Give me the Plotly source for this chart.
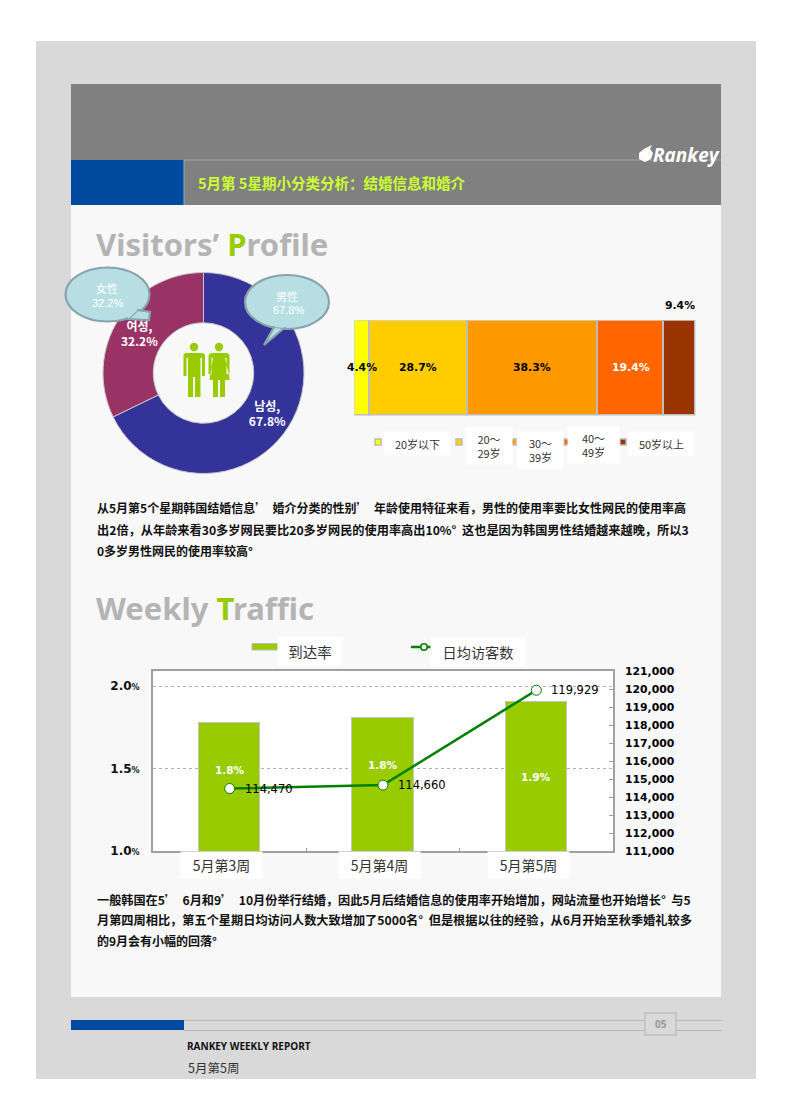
import plotly.graph_objects as go

W, H = 792, 1120

# ---- data ----
gender_labels = ["남성", "여성"]
gender_values = [67.8, 32.2]
gender_colors = ["#333399", "#993366"]

age_labels = ["20岁以下", "20～<br>29岁", "30～<br>39岁", "40～<br>49岁", "50岁以上"]
age_values = [4.4, 28.7, 38.3, 19.4, 9.4]
age_colors = ["#ffff00", "#ffcc00", "#ff9900", "#ff6600", "#993300"]
age_text_colors = ["#000000", "#000000", "#000000", "#ffffff", "#000000"]

weeks = ["5月第3周", "5月第4周", "5月第5周"]
reach = [1.774, 1.806, 1.903]
reach_labels = ["1.8%", "1.8%", "1.9%"]
visitors = [114470, 114660, 119929]
left_ticks = [1.0, 1.5, 2.0]
left_tick_labels = ["1.0", "1.5", "2.0"]
right_ticks = [111000, 112000, 113000, 114000, 115000, 116000, 117000, 118000, 119000, 120000, 121000]

para1 = [
    "从5月第5个星期韩国结婚信息’\u00a0 婚介分类的性别’\u00a0 年龄使用特征来看，男性的使用率要比女性网民的使用率高",
    "出2倍，从年龄来看30多岁网民要比20多岁网民的使用率高出10%°\u00a0 这也是因为韩国男性结婚越来越晚，所以3",
    "0多岁男性网民的使用率较高°",
]
para1_sizes = [12, 12.2, 12]
para2 = [
    "一般韩国在5’\u00a0 6月和9’\u00a0 10月份举行结婚，因此5月后结婚信息的使用率开始增加，网站流量也开始增长°\u00a0 与5",
    "月第四周相比，第五个星期日均访问人数大致增加了5000名°\u00a0 但是根据以往的经验，从6月开始至秋季婚礼较多",
    "的9月会有小幅的回落°",
]
para2_sizes = [12.15, 12.2, 12]

CJK = "Noto Sans CJK SC"
LAT = "DejaVu Sans"
GREEN = "#99cc00"


def px(x):
    return x / W


def py(y):
    return 1 - y / H


shapes, annos = [], []


def rect(x0, y0, x1, y1, fill, line=None, lw=1, layer="below"):
    shapes.append(dict(type="rect", xref="paper", yref="paper", x0=px(x0), x1=px(x1),
                       y0=py(y0), y1=py(y1), fillcolor=fill, layer=layer,
                       line=dict(color=line or fill, width=lw if line else 0)))


def hline(x0, x1, y, color, lw=1, layer="below"):
    shapes.append(dict(type="line", xref="paper", yref="paper", x0=px(x0), x1=px(x1),
                       y0=py(y), y1=py(y), line=dict(color=color, width=lw), layer=layer))


def circle(cx, cy, r, fill, line=None, lw=1, layer="above"):
    shapes.append(dict(type="circle", xref="paper", yref="paper", x0=px(cx - r), x1=px(cx + r),
                       y0=py(cy - r), y1=py(cy + r), fillcolor=fill, layer=layer,
                       line=dict(color=line or fill, width=lw if line else 0)))


def poly(points, fill, line=None, lw=1, layer="above"):
    p = "M " + " L ".join(f"{px(x):.5f},{py(y):.5f}" for x, y in points) + " Z"
    shapes.append(dict(type="path", xref="paper", yref="paper", path=p, fillcolor=fill, layer=layer,
                       line=dict(color=line or fill, width=lw if line else 0)))


def text(x, y, s, size=12, color="#000", weight=400, family=CJK, anchor="left"):
    annos.append(dict(x=px(x), y=py(y), xref="paper", yref="paper", text=s, showarrow=False,
                      xanchor=anchor, yanchor="middle", borderpad=0, align="center",
                      font=dict(size=size, color=color, family=family, weight=weight)))


def box(x0, y0, x1, y1, s, size=11, color="#333"):
    annos.append(dict(x=px((x0 + x1) / 2), y=py((y0 + y1) / 2), xref="paper", yref="paper", text=s,
                      showarrow=False, xanchor="center", yanchor="middle", width=x1 - x0,
                      height=y1 - y0, bgcolor="#ffffff", borderpad=0, align="center",
                      font=dict(size=size, color=color, family=CJK)))


def bubble(cx, cy, rx, ry, tail, fill="#b7dfe3", line="#88a3ad"):
    k = 0.5523

    def P(x, y):
        return f"{px(x):.5f},{py(y):.5f}"
    d = (f"M {P(cx, cy - ry)} "
         f"C {P(cx + k * rx, cy - ry)} {P(cx + rx, cy - k * ry)} {P(cx + rx, cy)} "
         f"C {P(cx + rx, cy + k * ry)} {P(cx + k * rx, cy + ry)} {P(cx, cy + ry)} "
         f"C {P(cx - k * rx, cy + ry)} {P(cx - rx, cy + k * ry)} {P(cx - rx, cy)} "
         f"C {P(cx - rx, cy - k * ry)} {P(cx - k * rx, cy - ry)} {P(cx, cy - ry)} Z")
    shapes.append(dict(type="path", xref="paper", yref="paper", path=d, fillcolor=fill,
                       line=dict(color=line, width=2.2), layer="above"))
    poly(tail, fill, line, 2.2)
    a, b = tail[0], tail[-1]
    poly([a, b, ((a[0] + b[0]) / 2 + (cx - (a[0] + b[0]) / 2) * .25,
                 (a[1] + b[1]) / 2 + (cy - (a[1] + b[1]) / 2) * .25)], fill)


# ---- page ----
rect(36, 41, 756, 1079, "#d9d9d9")
rect(71, 205, 721, 997, "#f8f8f8")
rect(71, 84, 721, 205, "#808080")
rect(71, 160, 184, 205, "#004a9f")
hline(184, 721, 160, "#999999", 1.5)
shapes.append(dict(type="line", xref="paper", yref="paper", x0=px(184), x1=px(184), y0=py(160), y1=py(205),
                   line=dict(color="#9aa6b8", width=1), layer="below"))
text(197, 183, "5月第 5星期小分类分析：结婚信息和婚介", 14.5, "#ccff33", 700)
poly([(652, 145), (650, 149), (653, 153), (651, 159), (645, 162), (639, 159), (639, 153), (644, 149)],
     "#ffffff", layer="below")
text(652, 155, "<i>Rankey</i>", 19, "#ffffff", 700, "Open Sans")

text(95, 244, f"Visitors’ <span style='color:{GREEN}'>P</span>rofile", 31, "#b4b4b4", 700, "Noto Sans")
text(95, 608, f"Weekly <span style='color:{GREEN}'>T</span>raffic", 31, "#b4b4b4", 700, "Noto Sans")

for s, yp, sz in zip(para1, [508, 530, 551], para1_sizes):
    text(96, yp, s, sz, "#111", 700)
for s, yp, sz in zip(para2, [899, 920, 940], para2_sizes):
    text(96, yp, s, sz, "#111", 700)

# footer
rect(71, 1020, 184, 1030, "#004a9f")
hline(184, 722, 1020.5, "#b8b8b8")
hline(184, 722, 1030.5, "#b8b8b8")
rect(645, 1013, 676, 1035, "#d9d9d9", "#c0c0c0", 1.5)
text(660.5, 1024, "05", 10, "#999999", 700, "Open Sans", "center")
text(186, 1046, "RANKEY WEEKLY REPORT", 10, "#111111", 700, "Open Sans")
text(187, 1067, "5月第5周", 12.5, "#333333", 400)

# people icon
for hx in (194, 219):
    circle(hx, 347, 4.2, GREEN)
poly([(185, 353), (203, 353), (205, 355), (205, 376), (202, 376), (202, 358), (200.5, 358), (200.5, 397),
      (195, 397), (195, 377), (193, 377), (193, 397), (188, 397), (188, 358), (186.5, 358), (186.5, 376),
      (183.5, 376), (183.5, 355)], GREEN)
poly([(211, 353), (227, 353), (229.5, 355), (229.5, 374), (226.5, 374), (226.5, 358), (225, 358), (230, 380),
      (225, 380), (225, 397), (220, 397), (220, 380), (218, 380), (218, 397), (213, 397), (213, 380),
      (209.5, 380), (213, 358), (211.5, 358), (211.5, 374), (208.5, 374), (208.5, 355)], GREEN)

# callouts
bubble(287, 302, 42, 27, [(274, 327), (264, 345), (284, 328)])
text(287, 296, "男性", 11, "#ffffff", 400, CJK, "center")
text(288, 310, "67.8%", 11, "#ffffff", 400, "Liberation Sans", "center")
bubble(107.5, 294.5, 42, 27, [(138, 310), (150, 312), (149, 320), (128, 319)])
text(107, 288, "女性", 11, "#ffffff", 400, CJK, "center")
text(107, 303, "32.2%", 11, "#ffffff", 400, "Liberation Sans", "center")

# age legend
legend_x = [378, 459, 513, 567, 623]
legend_boxes = [(385, 432, 450, 455), (466, 428, 512, 464), (518, 432, 563, 468), (568, 427, 619, 463), (629, 432, 694, 455)]
for lx, c, b, lab in zip(legend_x, age_colors, legend_boxes, age_labels):
    rect(lx - 3, 439, lx + 3, 445, c, "#bbbbbb", 1.5)
    box(*b, lab, 11)

# plot background and traffic legend
rect(153, 671, 613, 851, "#ffffff")
rect(252, 643.5, 278, 650, GREEN, "#bbbbbb", 1)
box(278, 637, 342, 665, "到达率", 14.5)
shapes.append(dict(type="line", xref="paper", yref="paper", x0=px(411), x1=px(431), y0=py(647), y1=py(647),
                   line=dict(color="#008000", width=2.5), layer="above"))
circle(424, 647, 3.2, "#ffffff", "#008000", 1.5)
box(431, 638, 525, 666, "日均访客数", 14.2)

# ---- traces ----
fig = go.Figure()
fig.add_trace(go.Pie(
    labels=gender_labels, values=gender_values, sort=False, direction="clockwise", rotation=0,
    hole=0.5, marker=dict(colors=gender_colors, line=dict(color="#c8c8c8", width=1)),
    domain=dict(x=[px(103), px(304)], y=[py(473.5), py(272.5)]),
    text=[f"{l},<br>{v}%" for l, v in zip(gender_labels, gender_values)],
    textinfo="text", textposition="inside", insidetextorientation="horizontal",
    insidetextfont=dict(color="#ffffff", size=12, family="Noto Sans CJK KR", weight=700),
    showlegend=False))

running = 0
for v, c, tc in zip(age_values, age_colors, age_text_colors):
    fig.add_trace(go.Bar(
        x=[v], y=["age"], orientation="h", xaxis="x2", yaxis="y3",
        marker=dict(color=c, line=dict(color="#bdbdbd", width=1.5)),
        textposition="none", showlegend=False))
    ypos = py(305) if v == age_values[-1] else py(368)
    annos.append(dict(x=running + v / 2, xref="x2", y=ypos, yref="paper", text=f"{v}%", showarrow=False,
                      xanchor="center", yanchor="middle",
                      font=dict(size=10.8, family=LAT, weight=700, color=tc)))
    running += v

fig.add_trace(go.Bar(x=weeks, y=reach, width=0.4, marker=dict(color=GREEN, line=dict(color="#c4c4c4", width=1.5)),
                     textposition="none", showlegend=False))
fig.add_trace(go.Scatter(x=weeks, y=visitors, yaxis="y2", mode="lines+markers",
                         line=dict(color="#008000", width=2.5),
                         marker=dict(size=10, color="#ffffff", line=dict(color="#008000", width=1)),
                         showlegend=False, cliponaxis=False))

for wk, v in zip(weeks, visitors):
    annos.append(dict(x=wk, xref="x", y=v, yref="y2", text=f"{v:,}", showarrow=False, xanchor="left",
                      yanchor="middle", xshift=13, yshift=0,
                      font=dict(size=11.5, family=LAT, color="#000", weight=500)))
for wk, lab, yp in zip(weeks, reach_labels, [770, 765, 777]):
    annos.append(dict(x=wk, xref="x", y=py(yp), yref="paper", text=lab, showarrow=False, xanchor="center",
                      yanchor="middle", font=dict(size=10.5, family=LAT, color="#ffffff", weight=700)))
for b, wk in zip([(181, 852, 262, 878), (339, 852, 420, 878), (488, 852, 569, 878)], weeks):
    box(*b, wk, 14)

fig.update_layout(
    template="none",
    width=W, height=H, autosize=False, margin=dict(l=0, r=0, t=0, b=0, pad=0),
    paper_bgcolor="#ffffff", plot_bgcolor="rgba(0,0,0,0)", barmode="stack", bargap=0,
    shapes=shapes, annotations=annos,
    xaxis=dict(domain=[px(153), px(613)], type="category", categoryorder="array", categoryarray=weeks,
               automargin=False, showticklabels=False, ticks="inside", ticklen=3, tickcolor="#999999",
               tickson="boundaries", showline=True, linecolor="#a0a0a0", linewidth=2, mirror=True,
               showgrid=False, zeroline=False),
    yaxis=dict(domain=[py(851), py(671)], range=[1.0, 2 + 15 / 165], tickvals=left_ticks, automargin=False,
               ticktext=[f"{t}<span style='font-size:8px'>%</span>" for t in left_tick_labels],
               tickfont=dict(size=12, family=LAT, weight=700, color="#111"), ticklabelstandoff=9,
               showgrid=True, griddash="dot", gridcolor="#b0b0b0", gridwidth=1, mirror=True,
               showline=True, linecolor="#a0a0a0", linewidth=2, zeroline=False, ticks=""),
    yaxis2=dict(domain=[py(851), py(671)], range=[111000, 121000], overlaying="y", side="right", anchor="x",
                automargin=False, tickvals=right_ticks, tickformat=",d", ticks="inside", ticklen=4,
                tickcolor="#999999", tickfont=dict(size=10.8, family=LAT, weight=700, color="#000"),
                ticklabelstandoff=11, showgrid=False, zeroline=False, showline=False),
    xaxis2=dict(domain=[px(354.5), px(695.5)], range=[0, sum(age_values)], anchor="y3", visible=False,
                automargin=False),
    yaxis3=dict(domain=[py(415.5), py(320.5)], anchor="x2", visible=False, type="category", automargin=False),
)

fig.write_html("out.html", config=dict(displayModeBar=False),
               post_script="document.body.style.margin='0';document.body.style.overflow='hidden';")
